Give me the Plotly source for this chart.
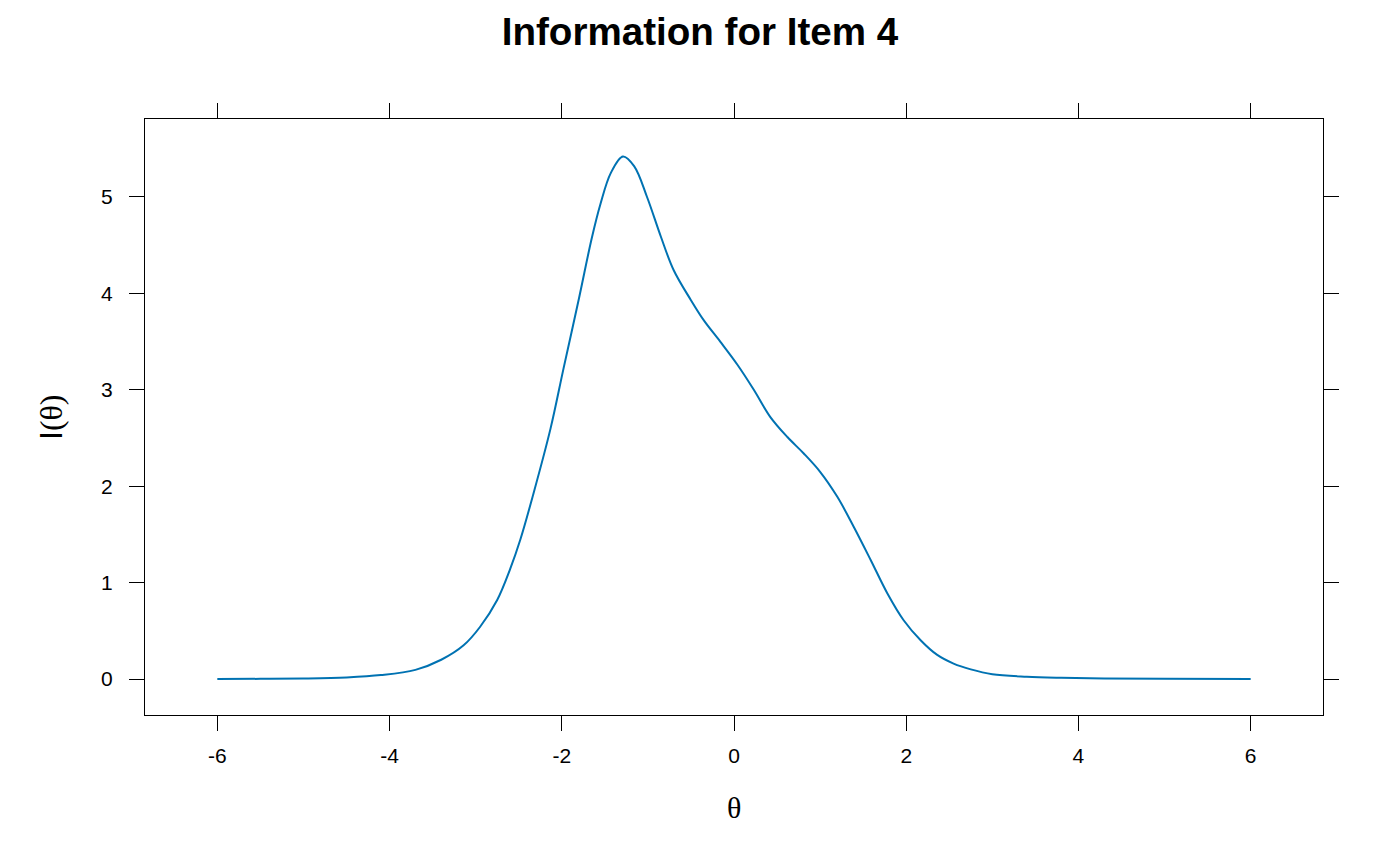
import plotly.graph_objects as go

theta = [-6.0, -5.5, -5.0, -4.5, -4.1, -3.7, -3.4, -3.14, -2.95, -2.75, -2.6, -2.48,
         -2.33, -2.13, -1.98, -1.8, -1.65, -1.55, -1.43, -1.29, -1.16, -1.01, -0.85,
         -0.7, -0.5, -0.35, -0.16, 0.04, 0.23, 0.42, 0.62, 0.81, 1.0, 1.2, 1.39, 1.59,
         1.78, 1.97, 2.17, 2.36, 2.55, 2.75, 3.0, 3.4, 3.8, 4.3, 5.0, 6.0]
info = [0.0, 0.002, 0.006, 0.017, 0.041, 0.095, 0.2, 0.35, 0.54, 0.82, 1.14, 1.45,
        1.92, 2.6, 3.22, 3.95, 4.58, 4.93, 5.25, 5.42, 5.32, 5.0, 4.59,
        4.24, 3.93, 3.72, 3.5, 3.26, 3.0, 2.72, 2.51, 2.34, 2.15, 1.89, 1.58, 1.23,
        0.89, 0.61, 0.4, 0.25, 0.16, 0.1, 0.05, 0.024, 0.013, 0.006, 0.002, 0.0]

x_ticks = [-6, -4, -2, 0, 2, 4, 6]
y_ticks = [0, 1, 2, 3, 4, 5]
title_text = "Information for Item 4"
x_label = "θ"
y_label = ('<span style="font-family:Liberation Sans, Arial, sans-serif">I</span>'
           '<span style="font-family:Liberation Serif, Times New Roman, serif">(θ)</span>')

fig = go.Figure()
fig.add_trace(go.Scatter(x=theta, y=info, mode="lines",
                         line=dict(color="#0072B2", width=2, shape="spline", smoothing=1.0),
                         showlegend=False, hoverinfo="x+y"))

axis_common = dict(showline=True, linecolor="black", linewidth=1.3, mirror="allticks",
                   ticks="outside", ticklen=15, tickwidth=1.3, tickcolor="black",
                   showgrid=False, zeroline=False,
                   tickfont=dict(family="Liberation Sans, Arial, sans-serif", size=21, color="black"))

fig.update_xaxes(range=[-6.84, 6.84], tickvals=x_ticks, ticktext=[str(v) for v in x_ticks],
                 ticklabelstandoff=7, **axis_common)
fig.update_yaxes(range=[-0.373, 5.809], tickvals=y_ticks, ticktext=[str(v) for v in y_ticks],
                 ticklabelstandoff=12, **axis_common)

fig.update_layout(
    width=1400, height=865,
    margin=dict(l=137, r=85, t=111, b=158, pad=0),
    paper_bgcolor="white", plot_bgcolor="white",
    title=dict(text="<b>" + title_text + "</b>", x=0.5 - 8 / 1400, xanchor="center", xref="container",
               y=1 - 23 / 865, yref="container", yanchor="middle",
               font=dict(family="Liberation Sans, Arial, sans-serif", size=38.6, color="black")),
    annotations=[
        dict(text=x_label, xref="paper", yref="paper", x=0.5, y=0, yshift=-92,
             showarrow=False, xanchor="center", yanchor="middle",
             font=dict(family="Liberation Serif, Times New Roman, serif", size=30, color="black")),
        dict(text=y_label, xref="paper", yref="paper", x=0, y=0.5, xshift=-94,
             showarrow=False, xanchor="center", yanchor="middle", textangle=-90,
             font=dict(family="Liberation Serif, Times New Roman, serif", size=32, color="black")),
    ],
)

fig.write_html("out.html")
